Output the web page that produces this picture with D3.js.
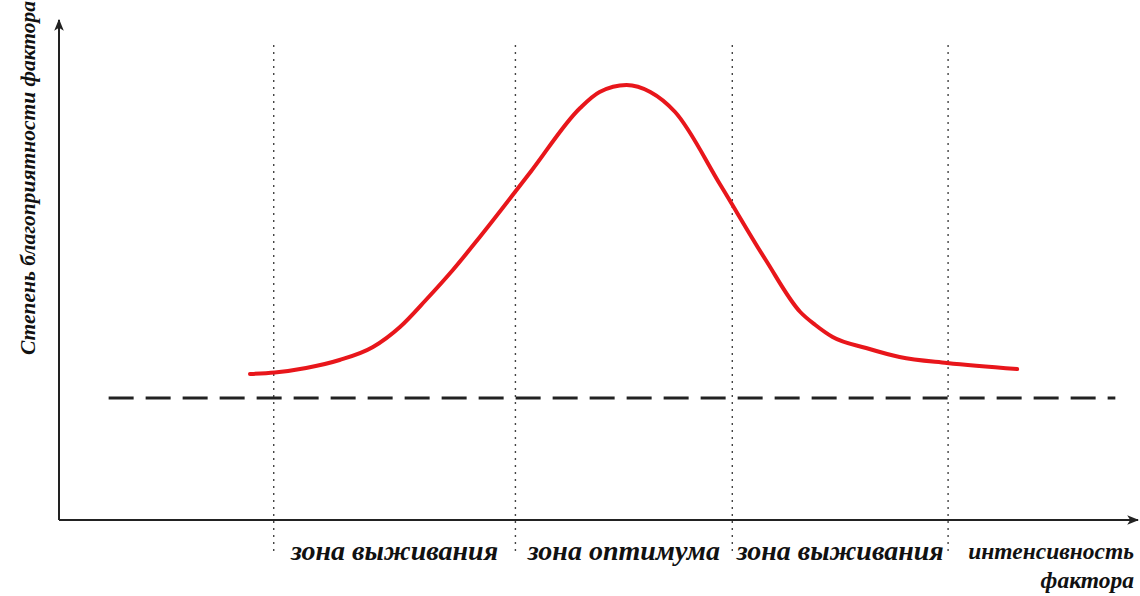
<!DOCTYPE html>
<html>
<head>
<meta charset="utf-8">
<script src="https://cdn.jsdelivr.net/npm/d3@7"></script>
<style>
  body { margin: 0; background: #fff; }
  svg { display: block; }
</style>
</head>
<body>
<div id="chart"></div>
<script>
// intensity of factor (0..100) vs degree of favourability (0..100)
const curveX = [17.7, 20.0, 22.9, 26.0, 29.1, 31.6, 34.0, 36.5, 39.0, 43.7, 48.3, 50.1, 52.6, 54.8, 57.1, 61.3, 65.5, 68.7, 70.1, 71.7, 74.8, 77.9, 82.3, 88.8];
const curveY = [29.2, 29.5, 30.4, 32.0, 34.6, 38.6, 44.0, 50.0, 56.6, 69.6, 82.4, 85.6, 87.0, 85.6, 81.6, 67.0, 52.0, 41.6, 39.0, 36.6, 34.4, 32.6, 31.4, 30.2];
const zoneBounds = [19.9, 42.3, 62.4, 82.4];
const zoneLabels = ["зона выживания", "зона оптимума", "зона выживания"];
const thresholdY = 24.4;
const thresholdRange = [4.6, 97.9];
const xTitle = ["интенсивность", "фактора"];
const yTitle = "Степень благоприятности фактора";

const W = 1140, H = 596;
const svg = d3.select("#chart").append("svg")
    .attr("width", W)
    .attr("height", H);

const x = d3.scaleLinear().domain([0, 100]).range([59, 1138]);
const y = d3.scaleLinear().domain([0, 100]).range([520, 20]);

// arrow head
const defs = svg.append("defs");
defs.append("marker")
    .attr("id", "arrow")
    .attr("viewBox", "0 0 10 10")
    .attr("refX", 9).attr("refY", 5)
    .attr("markerWidth", 6).attr("markerHeight", 6)
    .attr("markerUnits", "strokeWidth")
    .attr("orient", "auto")
    .append("path")
    .attr("d", "M0,1 L10,5 L0,9 L2.5,5 Z")
    .attr("fill", "#222");

// zone boundaries
svg.selectAll("line.zone")
    .data(zoneBounds)
    .enter()
    .append("line")
    .attr("class", "zone")
    .attr("x1", d => x(d)).attr("x2", d => x(d))
    .attr("y1", 45).attr("y2", 552)
    .attr("stroke", "#444")
    .attr("stroke-width", 1.4)
    .attr("stroke-dasharray", "2,5");

// threshold dashed line
svg.append("line")
    .attr("x1", x(thresholdRange[0])).attr("x2", x(thresholdRange[1]))
    .attr("y1", y(thresholdY)).attr("y2", y(thresholdY))
    .attr("stroke", "#222")
    .attr("stroke-width", 3)
    .attr("stroke-dasharray", "25,12");

// axes
svg.append("line")
    .attr("x1", x(0)).attr("y1", y(0))
    .attr("x2", x(100)).attr("y2", y(0))
    .attr("stroke", "#222").attr("stroke-width", 2)
    .attr("marker-end", "url(#arrow)");
svg.append("line")
    .attr("x1", x(0)).attr("y1", y(0))
    .attr("x2", x(0)).attr("y2", y(100))
    .attr("stroke", "#222").attr("stroke-width", 2)
    .attr("marker-end", "url(#arrow)");

// curve
const pts = curveX.map((d, i) => [d, curveY[i]]);
const line = d3.line()
    .x(d => x(d[0]))
    .y(d => y(d[1]))
    .curve(d3.curveMonotoneX);
svg.append("path")
    .datum(pts)
    .attr("d", line)
    .attr("fill", "none")
    .attr("stroke", "#e8161b")
    .attr("stroke-width", 4)
    .attr("stroke-linecap", "round");

const font = "'Liberation Serif', 'DejaVu Serif', serif";

// zone labels
svg.selectAll("text.zl")
    .data(zoneLabels)
    .enter()
    .append("text")
    .attr("class", "zl")
    .attr("x", (d, i) => (x(zoneBounds[i]) + x(zoneBounds[i + 1])) / 2)
    .attr("y", 560)
    .attr("text-anchor", "middle")
    .attr("font-family", font)
    .attr("font-style", "italic")
    .attr("font-weight", "bold")
    .attr("font-size", 28)
    .attr("fill", "#111")
    .text(d => d);

// x title
svg.selectAll("text.xt")
    .data(xTitle)
    .enter()
    .append("text")
    .attr("class", "xt")
    .attr("x", 1134)
    .attr("y", (d, i) => 559 + i * 29)
    .attr("text-anchor", "end")
    .attr("font-family", font)
    .attr("font-style", "italic")
    .attr("font-weight", "bold")
    .attr("font-size", 23.5)
    .attr("fill", "#111")
    .text(d => d);

// y title
svg.append("text")
    .attr("transform", "translate(35,178) rotate(-90)")
    .attr("text-anchor", "middle")
    .attr("font-family", font)
    .attr("font-style", "italic")
    .attr("font-weight", "bold")
    .attr("font-size", 21.5)
    .attr("fill", "#111")
    .text(yTitle);
</script>
</body>
</html>
